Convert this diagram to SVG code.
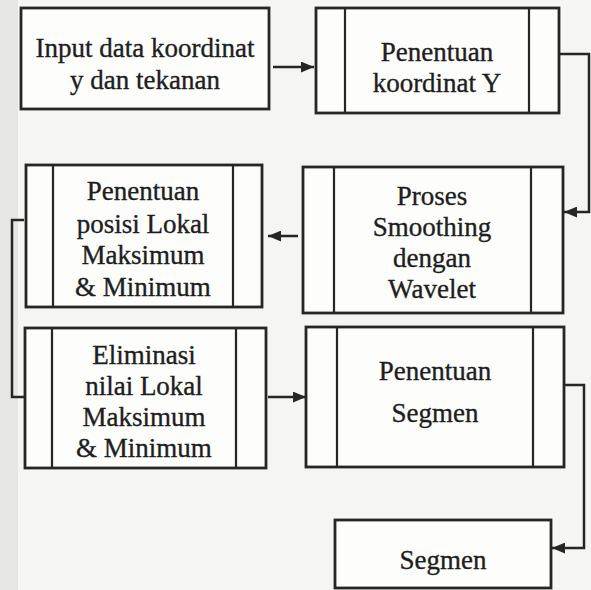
<svg xmlns="http://www.w3.org/2000/svg" width="591" height="590" viewBox="0 0 591 590">
  <style>
    .box { fill: #fdfdfc; stroke: #262626; stroke-width: 2.8; }
    .bar { stroke: #262626; stroke-width: 2.2; }
    .lbl { font-family: "Liberation Serif", "Times New Roman", serif; font-size: 27px; fill: #1e1e1e; stroke: #1e1e1e; stroke-width: 0.35; text-anchor: middle; }
    .wire { fill: none; stroke: #262626; stroke-width: 2.5; }
  </style>
  <defs>
    <marker id="head" viewBox="0 0 12 10" refX="12" refY="5" markerWidth="13" markerHeight="11" markerUnits="userSpaceOnUse" orient="auto">
      <path d="M0,0 L12,5 L0,10 Z" fill="#262626"/>
    </marker>
  </defs>
  <rect width="591" height="590" fill="#f5f5f3"/>
  <rect width="18" height="590" fill="#e6e6e4"/>

  <g id="input">
    <rect class="box" x="21" y="8" width="248" height="101"/>
    <text class="lbl" x="145" y="57">Input data koordinat</text>
    <text class="lbl" x="145" y="89">y  dan tekanan</text>
  </g>

  <g id="koordinat-y">
    <rect class="box" x="316" y="8" width="243" height="105"/>
    <line class="bar" x1="345" y1="8" x2="345" y2="113"/>
    <line class="bar" x1="529" y1="8" x2="529" y2="113"/>
    <text class="lbl" x="437" y="61">Penentuan</text>
    <text class="lbl" x="437" y="92">koordinat Y</text>
  </g>

  <g id="smoothing">
    <rect class="box" x="303" y="167" width="260" height="146"/>
    <line class="bar" x1="334" y1="167" x2="334" y2="313"/>
    <line class="bar" x1="531" y1="167" x2="531" y2="313"/>
    <text class="lbl" x="432" y="205">Proses</text>
    <text class="lbl" x="432" y="236">Smoothing</text>
    <text class="lbl" x="432" y="267">dengan</text>
    <text class="lbl" x="432" y="298">Wavelet</text>
  </g>

  <g id="posisi-lokal">
    <rect class="box" x="26" y="165" width="236" height="142"/>
    <line class="bar" x1="53" y1="165" x2="53" y2="307"/>
    <line class="bar" x1="233" y1="165" x2="233" y2="307"/>
    <text class="lbl" x="143" y="200">Penentuan</text>
    <text class="lbl" x="143" y="233">posisi Lokal</text>
    <text class="lbl" x="143" y="264">Maksimum</text>
    <text class="lbl" x="143" y="296">&amp; Minimum</text>
  </g>

  <g id="eliminasi">
    <rect class="box" x="25" y="328" width="241" height="140"/>
    <line class="bar" x1="52" y1="328" x2="52" y2="468"/>
    <line class="bar" x1="236" y1="328" x2="236" y2="468"/>
    <text class="lbl" x="144" y="364">Eliminasi</text>
    <text class="lbl" x="144" y="395">nilai Lokal</text>
    <text class="lbl" x="144" y="426">Maksimum</text>
    <text class="lbl" x="144" y="457">&amp; Minimum</text>
  </g>

  <g id="penentuan-segmen">
    <rect class="box" x="306" y="327" width="258" height="140"/>
    <line class="bar" x1="337" y1="327" x2="337" y2="467"/>
    <line class="bar" x1="533" y1="327" x2="533" y2="467"/>
    <text class="lbl" x="435" y="380">Penentuan</text>
    <text class="lbl" x="435" y="422">Segmen</text>
  </g>

  <g id="segmen">
    <rect class="box" x="335" y="520" width="216" height="68"/>
    <text class="lbl" x="443" y="569">Segmen</text>
  </g>

  <g id="connectors">
    <path class="wire" d="M273,67 H314" marker-end="url(#head)"/>
    <path class="wire" d="M559,54 H589 V212 H564" marker-end="url(#head)"/>
    <path class="wire" d="M298,236 H268" marker-end="url(#head)"/>
    <path class="wire" d="M24,220 H12 V397 H25"/>
    <path class="wire" d="M268,397 H306" marker-end="url(#head)"/>
    <path class="wire" d="M564,385 H584 V548 H552" marker-end="url(#head)"/>
  </g>
</svg>
